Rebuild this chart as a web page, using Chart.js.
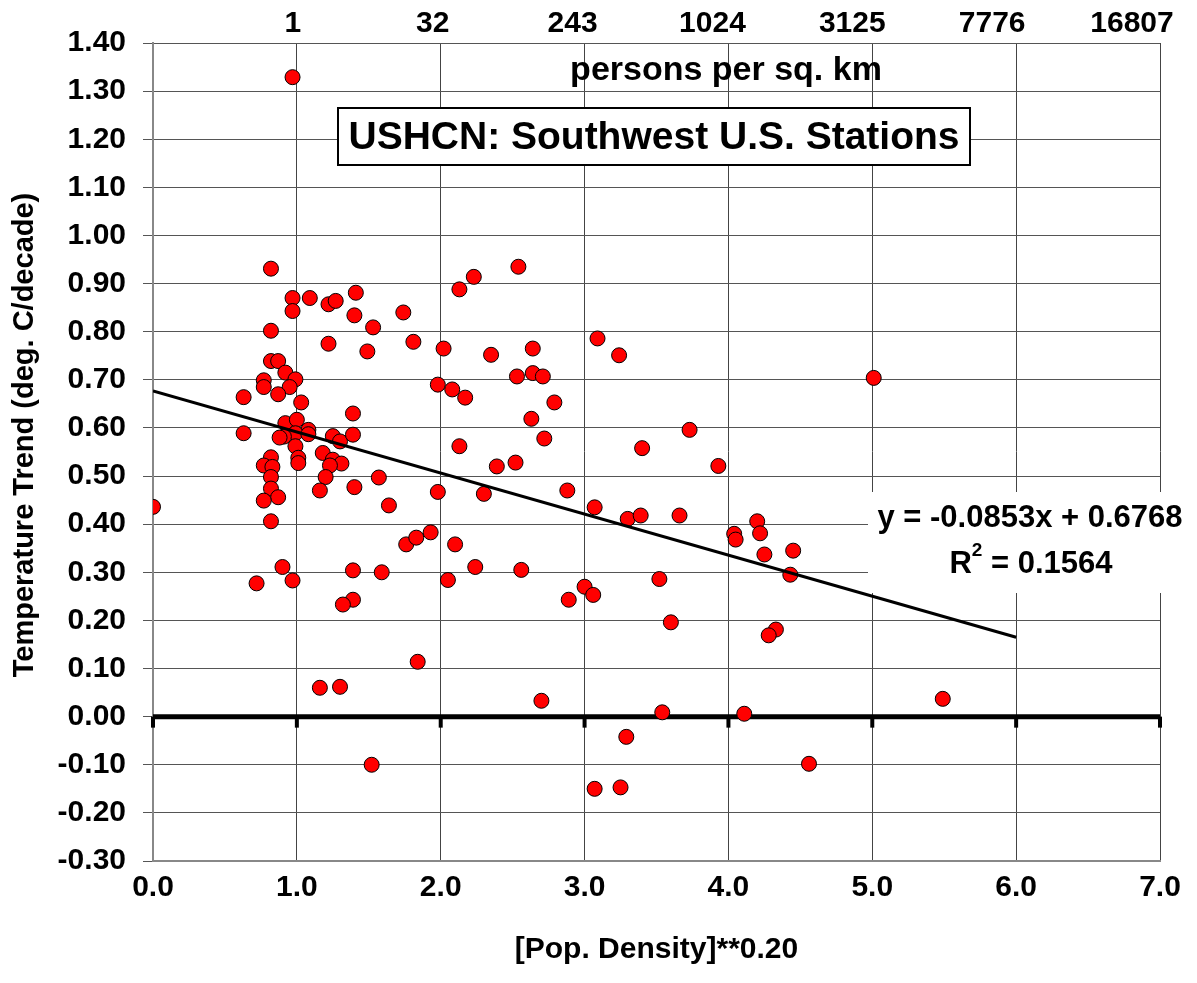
<!DOCTYPE html>
<html>
<head>
<meta charset="utf-8">
<script src="https://cdn.jsdelivr.net/npm/chart.js@4.4.1/dist/chart.umd.min.js"></script>
<style>
  html, body { margin: 0; padding: 0; background: #fff; }
  #wrap { width: 1197px; height: 983px; position: relative; }
</style>
</head>
<body>
<div id="wrap"><canvas id="chart"></canvas></div>
<script>
// station values
const popX = [
  0.00, 0.97, 0.82, 0.97, 1.09, 1.22, 1.27, 1.41, 0.97, 1.40,
  1.74, 1.53, 0.82, 1.22, 1.49, 1.81, 0.82, 0.87, 0.92, 0.77,
  0.99, 0.77, 0.95, 0.87, 0.63, 1.03, 1.39, 0.63, 0.92, 1.00,
  1.08, 1.25, 1.30, 1.39, 0.99, 0.91, 1.08, 0.99, 1.18, 1.25,
  1.31, 1.23, 0.82, 0.77, 0.83, 1.01, 1.01, 0.82, 1.20, 1.57,
  0.82, 1.16, 1.40, 0.87, 0.77, 1.64, 0.82, 1.76, 1.83, 1.93,
  2.10, 0.90, 0.72, 0.97, 1.39, 1.59, 1.39, 1.32, 2.05, 2.24,
  2.56, 1.16, 1.30, 1.84, 1.52, 2.54, 2.23, 2.13, 2.02, 2.35,
  2.64, 2.53, 2.64, 2.71, 1.98, 2.08, 2.17, 2.79, 2.63, 2.72,
  2.13, 2.39, 2.52, 1.98, 2.30, 2.88, 3.09, 3.24, 5.01, 3.73,
  3.40, 3.93, 3.07, 3.30, 3.39, 3.66, 4.04, 4.05, 4.20, 4.22,
  4.25, 4.45, 4.43, 3.00, 3.06, 2.89, 3.52, 3.60, 4.33, 4.28,
  2.70, 3.54, 4.11, 3.29, 3.07, 3.25, 4.56, 5.49, 0.88
];
const trend = [
  0.436, 1.329, 0.931, 0.870, 0.870, 0.857, 0.864, 0.881, 0.843, 0.834,
  0.840, 0.809, 0.802, 0.775, 0.759, 0.779, 0.739, 0.739, 0.715, 0.699,
  0.701, 0.685, 0.685, 0.670, 0.664, 0.653, 0.630, 0.589, 0.610, 0.617,
  0.596, 0.583, 0.572, 0.586, 0.589, 0.582, 0.587, 0.562, 0.548, 0.534,
  0.526, 0.522, 0.539, 0.522, 0.519, 0.538, 0.527, 0.498, 0.498, 0.497,
  0.474, 0.470, 0.477, 0.456, 0.449, 0.439, 0.406, 0.358, 0.372, 0.383,
  0.358, 0.311, 0.277, 0.283, 0.304, 0.300, 0.243, 0.233, 0.284, 0.311,
  0.305, 0.060, 0.062, 0.114, -0.100, 0.935, 0.914, 0.888, 0.765, 0.752,
  0.765, 0.707, 0.714, 0.707, 0.690, 0.680, 0.663, 0.653, 0.619, 0.578,
  0.562, 0.520, 0.528, 0.467, 0.463, 0.470, 0.786, 0.751, 0.704, 0.596,
  0.558, 0.521, 0.435, 0.411, 0.418, 0.418, 0.380, 0.368, 0.406, 0.381,
  0.337, 0.345, 0.295, 0.270, 0.253, 0.243, 0.286, 0.196, 0.181, 0.169,
  0.033, 0.009, 0.006, -0.042, -0.150, -0.147, -0.098, 0.037, 0.580
];

// linear fit shown on the chart
const slope = -0.0853;
const intercept = 0.6768;
const fitX = [0, 6];

// top axis: persons per sq. km at each x step
const topTicks = [1, 2, 3, 4, 5, 6, 7];
const topLabels = ['1', '32', '243', '1024', '3125', '7776', '16807'];

const FONT = "'Liberation Sans', Arial, sans-serif";

const points = popX.map((x, i) => ({ x: x, y: trend[i] }));
const fitLine = fitX.map(x => ({ x: x, y: slope * x + intercept }));

const decor = {
  id: 'decor',
  beforeDatasetsDraw(chart) {
    const { ctx, chartArea: a, scales: { x, y } } = chart;
    const y0 = y.getPixelForValue(0);
    ctx.save();
    // zero line with ticks
    ctx.strokeStyle = '#000';
    ctx.lineWidth = 5;
    ctx.beginPath();
    ctx.moveTo(a.left, y0);
    ctx.lineTo(a.right, y0);
    ctx.stroke();
    ctx.lineWidth = 4;
    for (let v = 0; v <= 7; v++) {
      const px = x.getPixelForValue(v);
      ctx.beginPath();
      ctx.moveTo(px, y0);
      ctx.lineTo(px, y0 + 11);
      ctx.stroke();
    }
    // title box
    ctx.fillStyle = '#fff';
    ctx.fillRect(338, 108, 632, 57);
    ctx.lineWidth = 2;
    ctx.strokeRect(338, 108, 632, 57);
    ctx.fillStyle = '#000';
    ctx.textAlign = 'center';
    ctx.textBaseline = 'middle';
    ctx.font = 'bold 39px ' + FONT;
    ctx.fillText('USHCN: Southwest U.S. Stations', 654, 138);
    // units under the top axis
    ctx.font = 'bold 34px ' + FONT;
    ctx.fillText('persons per sq. km', 726, 71);
    // equation background
    ctx.fillStyle = '#fff';
    ctx.fillRect(868, 492, 329, 101);
    ctx.fillStyle = '#000';
    ctx.font = 'bold 31px ' + FONT;
    ctx.fillText('y = -0.0853x + 0.6768', 1030, 518);
    ctx.textAlign = 'left';
    const r = 'R', rest = ' = 0.1564';
    const wR = ctx.measureText(r).width;
    ctx.font = 'bold 19px ' + FONT;
    const w2 = ctx.measureText('2').width;
    ctx.font = 'bold 31px ' + FONT;
    const wRest = ctx.measureText(rest).width;
    let sx = 1031 - (wR + w2 + wRest) / 2;
    ctx.fillText(r, sx, 564);
    ctx.font = 'bold 19px ' + FONT;
    ctx.fillText('2', sx + wR, 551);
    ctx.font = 'bold 31px ' + FONT;
    ctx.fillText(rest, sx + wR + w2, 564);
    ctx.restore();
  },
  afterDraw(chart) {
    const { ctx } = chart;
    ctx.save();
    ctx.translate(25, 435);
    ctx.rotate(-Math.PI / 2);
    ctx.fillStyle = '#000';
    ctx.font = 'bold 29px ' + FONT;
    ctx.textAlign = 'center';
    ctx.textBaseline = 'middle';
    ctx.fillText('Temperature Trend (deg. C/decade)', 0, 0);
    ctx.restore();
  }
};

new Chart(document.getElementById('chart'), {
  type: 'scatter',
  data: {
    datasets: [
      {
        label: 'Stations',
        data: points,
        backgroundColor: '#ff0000',
        borderColor: '#000',
        borderWidth: 1,
        pointRadius: 7.5,
        order: 2
      },
      {
        type: 'line',
        label: 'Linear fit',
        data: fitLine,
        borderColor: '#000',
        borderWidth: 3,
        pointRadius: 0,
        fill: false,
        order: 1
      }
    ]
  },
  options: {
    responsive: true,
    maintainAspectRatio: false,
    animation: false,
    layout: { padding: { left: 0, right: 37, top: 0, bottom: 0 } },
    plugins: {
      legend: { display: false },
      tooltip: { enabled: false }
    },
    scales: {
      x: {
        type: 'linear',
        position: 'bottom',
        min: 0,
        max: 7,
        afterFit(s) { s.height = 122; },
        ticks: {
          stepSize: 1,
          padding: 9,
          color: '#000',
          font: { family: FONT, size: 30, weight: 'bold' },
          callback: v => v.toFixed(1)
        },
        grid: { color: '#444', lineWidth: 1, drawTicks: false },
        border: { color: '#888', width: 2 },
        title: {
          display: true,
          text: '[Pop. Density]**0.20',
          color: '#000',
          font: { family: FONT, size: 30, weight: 'bold' },
          padding: { top: 0, bottom: 15 }
        }
      },
      x2: {
        type: 'linear',
        position: 'top',
        min: 0,
        max: 7.2,
        afterFit(s) { s.height = 43; },
        afterBuildTicks(s) { s.ticks = topTicks.map(v => ({ value: v })); },
        ticks: {
          padding: 1,
          color: '#000',
          font: { family: FONT, size: 30, weight: 'bold' },
          callback: (v, i) => topLabels[i]
        },
        grid: { display: false, drawTicks: false },
        border: { display: false }
      },
      y: {
        type: 'linear',
        min: -0.3,
        max: 1.4,
        afterFit(s) { s.width = 153; },
        ticks: {
          stepSize: 0.1,
          padding: 17,
          color: '#000',
          font: { family: FONT, size: 30, weight: 'bold' },
          callback: v => v.toFixed(2)
        },
        grid: { color: '#555', lineWidth: 1, tickLength: 10 },
        border: { color: '#888', width: 2 }
      }
    }
  },
  plugins: [decor]
});
</script>
</body>
</html>
